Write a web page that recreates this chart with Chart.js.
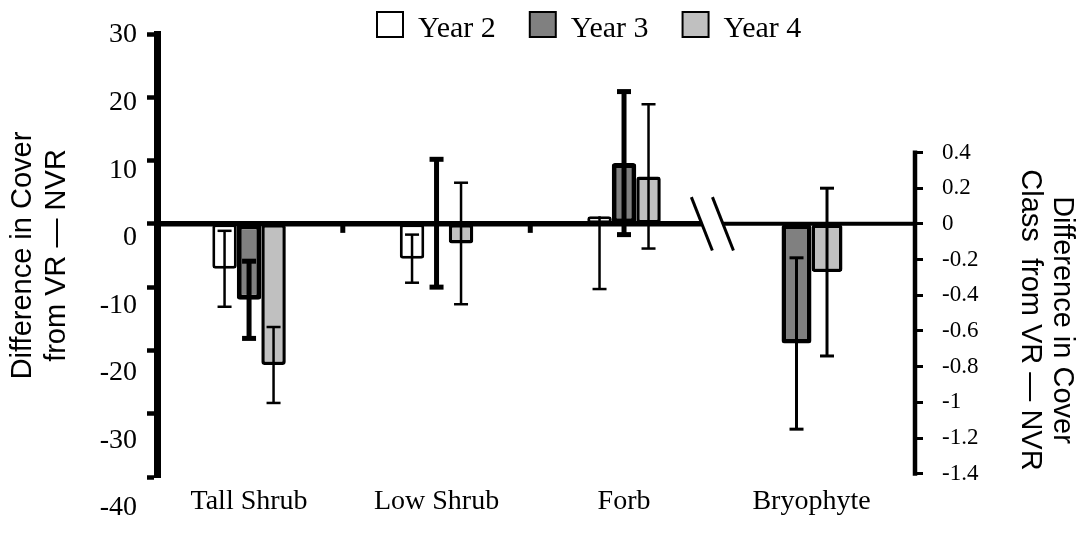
<!DOCTYPE html>
<html>
<head>
<meta charset="utf-8">
<script src="https://cdn.jsdelivr.net/npm/chart.js@4/dist/chart.umd.min.js"></script>
<style>
  html, body { margin: 0; padding: 0; background: #fff; }
  #wrap { width: 1082px; height: 537px; }
</style>
</head>
<body>
<div id="wrap"><canvas id="c" width="1082" height="537"></canvas></div>
<script>
// Plant groups along the category axis
const categories = ['Tall Shrub', 'Low Shrub', 'Forb', 'Bryophyte'];
const seriesNames = ['Year 2', 'Year 3', 'Year 4'];

// Difference in cover (VR - NVR), left axis
const year2Cover = [-7.1, -5.5, 1.2, null];
const year3Cover = [-12.0, 0.1, 9.6, null];
const year4Cover = [-22.3, -3.1, 7.5, null];

// Error bar lengths below / above each mean
const year2ErrMinus = [6.0, 3.8, 11.5, null];
const year2ErrPlus  = [6.0, 3.8, 0, null];
const year3Err = [6.1, 10.1, 11.3, null];
const year4Err = [6.0, 9.6, 11.4, null];

// Difference in cover class (VR - NVR), right axis
const year3Class = [null, null, null, -0.67];
const year4Class = [null, null, null, -0.27];
const year3ClassErr = [null, null, null, 0.48];
const year4ClassErr = [null, null, null, 0.47];

// Tick labels
const coverTicks = [30, 20, 10, 0, -10, -20, -30, -40];
const classTicks = [0.4, 0.2, 0, -0.2, -0.4, -0.6, -0.8, -1, -1.2, -1.4];

const SERIF = "'Liberation Serif', 'Times New Roman', serif";
const SANS = "'Liberation Sans', Arial, sans-serif";
const BREAK_AT = 3.47;

const toPoints = arr => arr.map((v, i) => ({ x: i + 1, y: v }));

const fills = ['#ffffff', '#808080', '#c0c0c0'];

const datasets = [
  { label: seriesNames[0], data: toPoints(year2Cover), yAxisID: 'y',
    backgroundColor: fills[0], borderColor: '#000', borderWidth: 3,
    errMinus: year2ErrMinus, errPlus: year2ErrPlus, errWidth: 2.5, errCapWidth: 2.5 },
  { label: seriesNames[1], data: toPoints(year3Cover), yAxisID: 'y',
    backgroundColor: fills[1], borderColor: '#000', borderWidth: 5,
    errMinus: year3Err, errPlus: year3Err, errWidth: 5, errCapWidth: 5 },
  { label: seriesNames[2], data: toPoints(year4Cover), yAxisID: 'y',
    backgroundColor: fills[2], borderColor: '#000', borderWidth: 3.5,
    errMinus: year4Err, errPlus: year4Err, errWidth: 2.5, errCapWidth: 2.5 },
  { label: seriesNames[1], data: toPoints(year3Class), yAxisID: 'y2', barThickness: 30,
    backgroundColor: fills[1], borderColor: '#000', borderWidth: 4.5,
    errMinus: year3ClassErr, errPlus: year3ClassErr, errWidth: 3, errCapWidth: 3 },
  { label: seriesNames[2], data: toPoints(year4Class), yAxisID: 'y2', barThickness: 31,
    backgroundColor: fills[2], borderColor: '#000', borderWidth: 3.5,
    errMinus: year4ClassErr, errPlus: year4ClassErr, errWidth: 3, errCapWidth: 3 }
];

// Zero baseline with axis break and category dividers
const baselinePlugin = {
  id: 'baseline',
  beforeDatasetsDraw(chart) {
    const { ctx, chartArea, scales } = chart;
    const y0 = scales.y.getPixelForValue(0);
    const xb = scales.x.getPixelForValue(BREAK_AT);
    ctx.save();
    ctx.strokeStyle = '#000';
    ctx.lineCap = 'butt';
    ctx.lineWidth = 5.5;
    ctx.beginPath(); ctx.moveTo(chartArea.left, y0); ctx.lineTo(xb - 10.3, y0); ctx.stroke();
    ctx.lineWidth = 4;
    ctx.beginPath(); ctx.moveTo(xb + 10.8, y0); ctx.lineTo(chartArea.right, y0); ctx.stroke();
    // dividers between categories
    ctx.lineWidth = 5;
    [1.5, 2.5].forEach(v => {
      const px = scales.x.getPixelForValue(v);
      ctx.beginPath(); ctx.moveTo(px, y0); ctx.lineTo(px, y0 + 9); ctx.stroke();
    });
    // break marks
    ctx.lineWidth = 3;
    [-10.3, 10.8].forEach(dx => {
      ctx.beginPath();
      ctx.moveTo(xb + dx - 10.5, y0 - 26.7);
      ctx.lineTo(xb + dx + 10.5, y0 + 26.7);
      ctx.stroke();
    });
    // right axis line, spanning only its tick range
    const y2 = scales.y2;
    ctx.lineWidth = 4.5;
    ctx.beginPath();
    ctx.moveTo(chartArea.right, y2.getPixelForValue(classTicks[0]) - 2);
    ctx.lineTo(chartArea.right, y2.getPixelForValue(classTicks[classTicks.length - 1]) + 2);
    ctx.stroke();
    ctx.restore();
  }
};

// Error bars, drawn from each bar's value through its own y scale
const errorBarPlugin = {
  id: 'errorBars',
  afterDatasetsDraw(chart) {
    const { ctx } = chart;
    ctx.save();
    ctx.strokeStyle = '#000';
    chart.data.datasets.forEach((ds, di) => {
      const meta = chart.getDatasetMeta(di);
      const ys = chart.scales[ds.yAxisID];
      ds.data.forEach((pt, j) => {
        if (pt.y === null || ds.errMinus[j] === null) return;
        const bar = meta.data[j];
        const x = bar.x;
        const minus = ds.errMinus[j], plus = ds.errPlus[j];
        const yTop = ys.getPixelForValue(pt.y + plus);
        const yBot = ys.getPixelForValue(pt.y - minus);
        const cap = 7;
        ctx.lineWidth = ds.errWidth;
        ctx.beginPath(); ctx.moveTo(x, yTop); ctx.lineTo(x, yBot); ctx.stroke();
        ctx.lineWidth = ds.errCapWidth;
        if (plus > 0) { ctx.beginPath(); ctx.moveTo(x - cap, yTop); ctx.lineTo(x + cap, yTop); ctx.stroke(); }
        if (minus > 0) { ctx.beginPath(); ctx.moveTo(x - cap, yBot); ctx.lineTo(x + cap, yBot); ctx.stroke(); }
      });
    });
    ctx.restore();
  }
};

// Legend row and right-hand axis title
const decorPlugin = {
  id: 'decor',
  afterDraw(chart) {
    const { ctx, chartArea } = chart;
    ctx.save();
    ctx.font = '30px ' + SERIF;
    ctx.textBaseline = 'alphabetic';
    ctx.textAlign = 'left';
    let x = 377;
    for (let i = 0; i < 3; i++) {
      const ds = chart.data.datasets[i];
      ctx.fillStyle = ds.backgroundColor;
      ctx.fillRect(x, 12, 26, 25);
      ctx.lineWidth = 2;
      ctx.strokeStyle = '#000';
      ctx.strokeRect(x, 12, 26, 25);
      ctx.fillStyle = '#000';
      ctx.fillText(ds.label, x + 41, 37);
      x += 41 + ctx.measureText(ds.label).width + 34;
    }
    // right title
    ctx.font = '29px ' + SANS;
    ctx.textAlign = 'center';
    ctx.textBaseline = 'middle';
    ctx.translate(chartArea.right + 147, 320);
    ctx.rotate(Math.PI / 2);
    ctx.fillText('Difference in Cover', 0, 0);
    ctx.fillText('Class  from VR \u2014 NVR', 0, 32);
    ctx.restore();
  }
};

new Chart(document.getElementById('c'), {
  type: 'bar',
  data: { datasets },
  plugins: [baselinePlugin, errorBarPlugin, decorPlugin],
  options: {
    responsive: false,
    animation: false,
    devicePixelRatio: 1,
    layout: { padding: { top: 34, left: 0, right: 0, bottom: 0 } },
    plugins: { legend: { display: false }, tooltip: { enabled: false } },
    datasets: {
      bar: { borderSkipped: false, skipNull: true, categoryPercentage: 0.392, barPercentage: 1,
             inflateAmount: 0, borderRadius: 3 }
    },
    scales: {
      x: {
        type: 'linear', position: 'bottom', min: 0.509, max: 4.552, offset: false,
        grid: { display: false, drawTicks: false },
        border: { display: false },
        afterBuildTicks: s => { s.ticks = categories.map((c, i) => ({ value: i + 1 })); },
        afterFit: s => { s.height = 60; },
        ticks: {
          autoSkip: false, maxRotation: 0, padding: 8, color: '#000',
          font: { family: SERIF, size: 28 },
          callback: v => categories[v - 1]
        }
      },
      yl: {
        type: 'linear', position: 'left', weight: 1, min: -35.41, max: 30.148,
        grid: { display: false, drawTicks: false },
        border: { display: false },
        afterBuildTicks: s => { s.ticks = coverTicks.map(v => ({ value: v })); },
        afterFit: s => { s.width = 147; },
        ticks: {
          autoSkip: false, padding: 10, color: '#000',
          font: { family: SERIF, size: 28 },
          callback: v => String(v)
        },
        title: {
          display: true, text: ['Difference in Cover', 'from VR \u2014 NVR'], color: '#000',
          font: { family: SANS, size: 29, lineHeight: 34 / 29 },
          padding: { top: 6, bottom: 0 }
        }
      },
      y: {
        type: 'linear', position: 'left', weight: 0, min: -40, max: 30,
        grid: { display: true, drawOnChartArea: false, drawTicks: true, tickLength: 10, tickWidth: 4.5, tickColor: '#000' },
        border: { display: true, width: 7, color: '#000' },
        afterBuildTicks: s => { s.ticks = coverTicks.map(v => ({ value: v })); },
        afterFit: s => { s.width = 10; },
        ticks: { display: false }
      },
      y2: {
        type: 'linear', position: 'right', min: -1.418, max: 1.0639,
        grid: { display: true, drawOnChartArea: false, drawTicks: true, tickLength: 8, tickWidth: 3, tickColor: '#000' },
        border: { display: false },
        afterBuildTicks: s => { s.ticks = classTicks.map(v => ({ value: v })); },
        afterFit: s => { s.width = 167; },
        ticks: {
          autoSkip: false, padding: 19, color: '#000',
          font: { family: SERIF, size: 23 },
          callback: v => String(v)
        }
      }
    }
  }
});
</script>
</body>
</html>
